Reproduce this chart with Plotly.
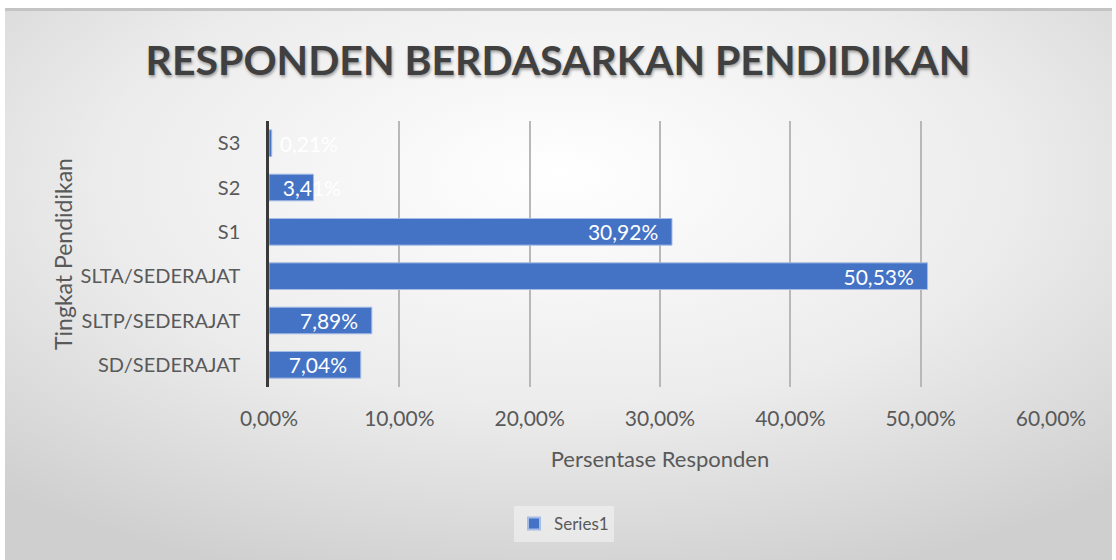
import base64
import plotly.graph_objects as go

categories = ["SD/SEDERAJAT", "SLTP/SEDERAJAT", "SLTA/SEDERAJAT", "S1", "S2", "S3"]
values = [0.0704, 0.0789, 0.5053, 0.3092, 0.0341, 0.0021]
tick_vals = [0, 0.1, 0.2, 0.3, 0.4, 0.5, 0.6]
series_name = "Series1"
title_text = "RESPONDEN BERDASARKAN PENDIDIKAN"
x_title = "Persentase Responden"
y_title = "Tingkat Pendidikan"

W, H = 1116, 560
L, R, T, B = 269, 65, 121, 173
pw, ph = W - L - R, H - T - B

BAR = "#4472C4"
BAR_LINE = "#A4BCE6"
FONT = "Lato"
GREY = "#595959"

svg = """<svg xmlns='http://www.w3.org/2000/svg' width='1107' height='552' viewBox='0 0 1107 552' preserveAspectRatio='none'>
<defs><radialGradient id='g' cx='50%' cy='32%' r='75%' fx='50%' fy='30%'>
<stop offset='0%' stop-color='#FFFFFF'/><stop offset='55%' stop-color='#ECECEC'/><stop offset='100%' stop-color='#CFCFCF'/></radialGradient></defs>
<rect x='0' y='0' width='1107' height='552' fill='url(#g)'/>
<rect x='0' y='0' width='1107' height='3' fill='#C4C4C4'/>
</svg>"""
src = "data:image/svg+xml;base64," + base64.b64encode(svg.encode()).decode()

# bars whose label does not fit keep the label from the bar start
big = [i for i, v in enumerate(values) if v >= 0.05]
small = [i for i, v in enumerate(values) if v < 0.05]

fig = go.Figure()
fig.add_trace(go.Bar(
    y=[categories[i] for i in big], x=[values[i] for i in big],
    orientation="h", name=series_name,
    marker=dict(color=BAR, line=dict(color=BAR_LINE, width=1)),
    texttemplate="%{x:.2%}  ", textposition="inside", insidetextanchor="end",
    constraintext="none", textangle=0,
    textfont=dict(family=FONT, size=21, color="white"),
    hoverinfo="skip",
))
fig.add_trace(go.Bar(
    y=[categories[i] for i in small], x=[values[i] for i in small],
    orientation="h", name=series_name, showlegend=False,
    marker=dict(color=BAR, line=dict(color=BAR_LINE, width=1)),
    texttemplate="  %{x:.2%}", textposition="inside", insidetextanchor="start",
    constraintext="none", textangle=0, cliponaxis=False,
    textfont=dict(family=FONT, size=21, color="white"),
    hoverinfo="skip",
))

fig.update_layout(
    width=W, height=H,
    margin=dict(l=L, r=R, t=T, b=B, autoexpand=False),
    paper_bgcolor="white", plot_bgcolor="rgba(0,0,0,0)",
    barmode="overlay", bargap=0.4,
    separators=",.",
    font=dict(family=FONT, color=GREY),
    title=dict(text=f"<b>{title_text}</b>", x=0.5, xref="container", xanchor="center",
               y=1 - 61 / H, yanchor="middle", yref="container",
               font=dict(family=FONT, size=41, color="#404040",
                         shadow="1px 2px 3px rgba(0,0,0,0.35)")),
    xaxis=dict(range=[0, 0.6], tickvals=tick_vals, tickformat=".2%",
               showgrid=True, gridcolor="#B8B8B8", gridwidth=1.5,
               zeroline=False, showline=False,
               ticks="outside", ticklen=13, tickcolor="rgba(0,0,0,0)",
               tickfont=dict(family=FONT, size=21, color=GREY),
               title=dict(text=x_title, font=dict(family=FONT, size=22, color=GREY), standoff=22)),
    yaxis=dict(categoryorder="array", categoryarray=categories,
               showgrid=False, zeroline=False,
               showline=True, linecolor="#3A3A3A", linewidth=2.5,
               ticks="outside", ticklen=22, tickcolor="rgba(0,0,0,0)",
               tickfont=dict(family=FONT, size=20, color=GREY),
               title=dict(text=y_title, font=dict(family=FONT, size=23, color=GREY), standoff=2)),
    legend=dict(orientation="h", x=(564 - L) / pw, xanchor="center",
                y=-(524 - (T + ph)) / ph, yanchor="middle",
                bgcolor="rgba(245,245,245,0.55)", borderwidth=0,
                font=dict(family=FONT, size=17, color=GREY),
                itemsizing="constant"),
    showlegend=True,
    images=[dict(source=src, xref="paper", yref="paper",
                 x=(5 - L) / pw, y=(T + ph - 8) / ph,
                 sizex=(1112 - 5) / pw, sizey=(H - 8) / ph,
                 xanchor="left", yanchor="top", sizing="stretch", layer="below")],
)

fig.write_html("out.html", config={"displayModeBar": False},
               post_script="document.body.style.margin='0';")
